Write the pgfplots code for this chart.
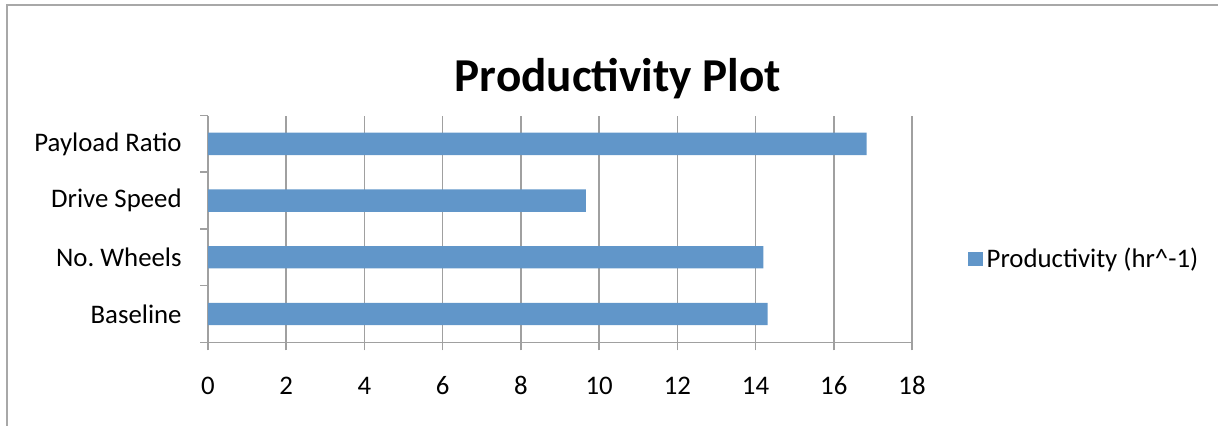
\documentclass[border=0pt]{standalone}
\usepackage{fontspec}
\setmainfont{Carlito}
\usepackage{pgfplots}
\pgfplotsset{compat=1.18}

\definecolor{barblue}{RGB}{97,150,201}
\definecolor{gridgray}{RGB}{160,160,160}
\definecolor{framegray}{RGB}{168,168,168}

\newcommand{\labelfont}{\fontsize{13.4}{16}\selectfont}

\begin{document}
\frenchspacing
\begin{tikzpicture}[x=1pt,y=1pt]
  % page extent and chart frame
  \path[use as bounding box] (0,0) rectangle (609,212.5);
  \draw[framegray, line width=1pt] (3.7,-1) -- (3.7,210) -- (610,210);

  % chart title
  \node[anchor=base, font=\fontsize{23.6}{28}\selectfont\bfseries, inner sep=0pt]
    at (309,166.6) {Productivity Plot};

  \begin{axis}[
    at={(104pt,41.35pt)}, anchor=south west,
    scale only axis, width=352pt, height=113.35pt,
    xbar, bar width=11.2pt,
    xmin=0, xmax=18,
    ymin=-0.5, ymax=3.5,
    axis x line*=bottom, axis y line*=left,
    axis line style={gridgray, line width=0.8pt},
    xtick={0,2,...,18},
    xmajorgrids, major grid style={gridgray, line width=0.8pt},
    tick align=outside,
    major tick length=4pt,
    tick style={gridgray, line width=0.8pt},
    xticklabel style={font=\labelfont, inner sep=0pt, anchor=base, yshift=-22.3pt},
    % category boundaries carry the tick marks
    ytick={-0.5,0.5,1.5,2.5,3.5},
    yticklabels={},
    % category names sit between them
    extra y ticks={0,1,2,3},
    extra y tick labels={Baseline, No. Wheels, Drive Speed, Payload Ratio},
    extra y tick style={grid=none, major tick length=0pt,
      yticklabel style={font=\labelfont, inner sep=0pt, anchor=east, xshift=-13pt}},
    /pgf/number format/assume math mode=true,
    legend style={draw=none, fill=none, at={(1.0791,0.3674)}, anchor=west,
      inner sep=0pt, font=\labelfont,
      /tikz/every even column/.append style={column sep=0pt}},
    legend cell align=left,
    legend image code/.code={\fill[#1] (0pt,-3.65pt) rectangle (7.3pt,3.65pt);},
  ]
    \addplot[fill=barblue, draw=none] coordinates {
      (14.31,0) (14.20,1) (9.66,2) (16.84,3)
    };
    \addlegendentry{Productivity (hr\textasciicircum{}-1)}
  \end{axis}
\end{tikzpicture}
\end{document}
